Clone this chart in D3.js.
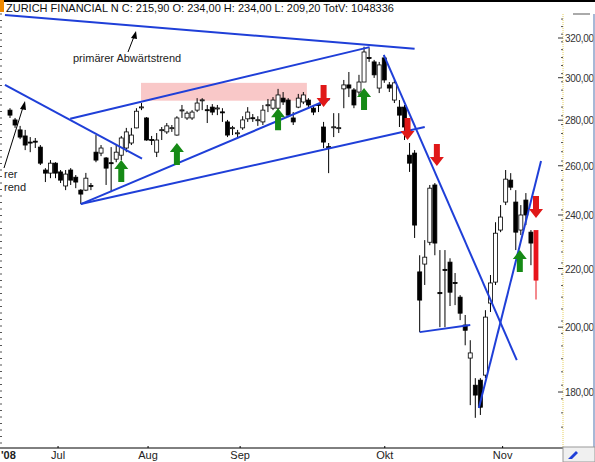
<!DOCTYPE html>
<html><head><meta charset="utf-8">
<script src="https://cdn.jsdelivr.net/npm/d3@7"></script>
<style>body{margin:0;background:#fff}svg{display:block;font-family:Arial,"Liberation Sans",sans-serif}</style>
</head><body><svg id="c" width="595" height="462"></svg>
<script>
const title = "ZURICH FINANCIAL N C: 215,90 O: 234,00 H: 234,00 L: 209,20 TotV: 1048336";
// OHLC per trading day (index = day)
const opens  = [284.6,280.1,275.6,272.9,270.2,270.6,268.0,258.2,256.9,261.1,257.4,251.6,258.2,255.2,249.9,249.9,251.8,265.8,265.4,263.3,261.3,262.8,264.5,267.6,269.8,276.5,285.8,281.0,271.3,265.8,275.4,274.7,276.4,273.3,284.4,281.0,281.0,284.6,289.1,284.8,286.0,285.4,283.8,279.2,276.4,274.0,276.5,280.6,281.1,280.0,279.2,286.8,285.5,285.5,290.2,289.3,281.0,286.0,288.4,289.3,285.5,287.2,276.9,268.2,276.7,276.3,294.6,296.5,294.1,293.1,297.9,310.0,307.8,295.0,309.8,296.5,289.3,286.0,286.0,264.5,265.4,218.8,221.6,229.6,252.0,211.6,219.7,222.3,215.1,210.0,200.7,190.2,182.0,183.5,185.0,208.0,215.2,234.2,245.1,254.0,245.1,234.2,245.9,233.4,234.0];
const highs  = [285.5,281.0,277.4,275.6,272.4,272.0,268.9,259.0,262.4,261.5,258.2,258.2,259.0,256.1,250.3,257.0,252.8,273.3,268.9,263.7,268.0,268.9,272.9,276.5,276.5,285.5,287.9,281.4,272.9,274.2,276.9,278.7,277.8,281.8,287.0,284.1,284.6,290.2,290.2,287.0,287.4,287.0,285.5,280.1,277.4,275.6,281.8,286.0,282.8,281.8,287.0,289.8,290.7,294.6,293.1,290.2,283.7,292.2,293.1,290.2,286.5,287.9,279.2,269.8,283.2,283.2,298.9,302.8,295.0,301.4,315.5,314.8,308.8,307.8,310.8,297.9,298.9,289.3,287.0,269.8,266.7,224.8,230.4,252.0,252.8,226.7,226.7,223.7,218.4,210.7,204.0,195.8,184.1,184.1,205.6,217.7,237.2,243.9,258.2,256.9,249.9,243.9,248.7,234.2,234.0];
const lows   = [281.0,276.5,271.5,266.7,265.8,267.6,260.3,253.2,254.8,254.8,252.8,249.9,252.0,250.7,244.3,249.5,249.9,261.5,264.1,252.0,249.1,261.5,262.4,265.8,268.9,276.3,284.6,270.8,268.9,263.7,271.1,273.8,274.7,273.0,281.0,280.1,280.1,283.7,284.6,278.7,282.3,282.3,279.2,272.4,273.3,272.0,275.6,279.2,279.2,277.4,277.8,283.7,284.6,284.6,287.0,281.4,277.8,285.5,287.4,286.0,282.3,283.7,267.6,256.9,272.4,274.2,285.5,290.7,285.5,291.7,297.9,307.8,299.9,292.6,297.5,293.1,287.9,276.9,271.1,257.4,231.2,198.4,214.2,228.5,224.8,200.0,200.0,207.0,207.3,202.3,194.2,176.2,172.6,173.4,184.1,205.0,214.2,233.4,243.9,249.9,226.7,232.3,236.1,221.2,209.2];
const closes = [282.3,277.8,272.4,268.9,269.8,270.2,261.1,256.9,261.1,256.9,254.0,256.5,254.0,253.2,248.3,254.8,251.4,262.4,267.6,259.0,260.9,265.8,272.0,274.7,273.3,284.1,286.1,271.1,271.0,271.1,275.7,277.4,276.6,281.0,284.7,283.2,283.7,287.9,289.4,284.5,283.7,285.6,283.6,273.3,276.6,274.3,280.1,283.7,280.9,280.2,284.6,287.1,289.3,291.7,288.4,282.3,279.2,290.2,291.7,287.0,283.7,286.9,270.2,267.8,277.0,276.6,296.5,295.0,287.0,297.9,312.8,309.6,301.4,306.3,298.9,295.0,297.5,282.3,276.9,261.1,236.1,209.0,224.1,250.7,229.3,211.2,219.3,211.7,214.7,204.6,199.0,191.8,179.1,175.6,203.3,214.9,233.0,239.2,254.4,251.1,233.4,240.0,240.0,229.3,215.9];
const yTicks = [180,200,220,240,260,280,300,320];
const monthLabels = ["Jul","Aug","Sep","Okt","Nov"];
const monthDays = [9.5,27.3,45.5,74.1,97.4];
// trend lines: [day1, price1, day2, price2]
const trendLines = [
  [-1,332.2,80,314.4],[-1,296.5,26.1,263.0],[11.9,280.6,71.1,315.3],
  [14,244.3,63.2,289.8],[14,244.3,82,276.9],[73.9,311.3,100.2,189.6],
  [81,198.4,91,200.7],[92.7,175.4,105,262.0]];
const resistZone = [25.9,297.5,58.7,289.0];
const greenArrows = [[22,262.4],[33,269.8],[53,285.5],[70,295.0],[100.8,226.7]];
const redArrows = [[62,286.0],[78.6,271.1],[84.4,259.9],[104,238.8]];

const svg = d3.select("#c");
const x = d3.scaleLinear().domain([0,104]).range([10,536]);
const y = d3.scaleLog().domain([180,320]).range([392,38]);

svg.append("rect").attr("x",x(resistZone[0])).attr("y",y(resistZone[1]))
  .attr("width",x(resistZone[2])-x(resistZone[0])).attr("height",y(resistZone[3])-y(resistZone[1]))
  .attr("fill","#f9c8c8");

const data = opens.map((o,i)=>({i,o,h:highs[i],l:lows[i],c:closes[i]}));
const g = svg.append("g");
data.forEach(d=>{
  const last = d.i===data.length-1;
  const col = last?"#e8141c":"#000";
  g.append("line").attr("x1",x(d.i)).attr("x2",x(d.i)).attr("y1",y(d.h)).attr("y2",y(d.l))
   .attr("stroke",col).attr("stroke-width",1);
  const top=y(Math.max(d.o,d.c)), bot=y(Math.min(d.o,d.c));
  const up = d.c>d.o;
  g.append("rect").attr("x",x(d.i)-2).attr("y",top).attr("width",4).attr("height",Math.max(1,bot-top))
   .attr("fill",last?col:(up?"#fff":"#000")).attr("stroke",col).attr("stroke-width",0.8);
});

trendLines.forEach(t=>svg.append("line").attr("x1",x(t[0])).attr("y1",y(t[1])).attr("x2",x(t[2])).attr("y2",y(t[3]))
  .attr("stroke","#1f3fd8").attr("stroke-width",2));

function arrow(cx,tipY,dir,fill){
  const s=dir;
  const p=[[0,0],[7,9],[3,9],[3,22],[-3,22],[-3,9],[-7,9]].map(q=>[cx+q[0],tipY-s*q[1]]);
  svg.append("polygon").attr("points",p.map(q=>q.join(",")).join(" ")).attr("fill",fill);
}
greenArrows.forEach(a=>arrow(x(a[0]),y(a[1]),-1,"#168a16"));
redArrows.forEach(a=>arrow(x(a[0]),y(a[1]),1,"#e01818"));

svg.append("text").attr("x",73).attr("y",62).attr("font-size",11).attr("fill","#222").text("primärer Abwärtstrend");
svg.append("line").attr("x1",128).attr("y1",52).attr("x2",135).attr("y2",34).attr("stroke","#000");
svg.append("polygon").attr("points","136,31 131,38 137,39").attr("fill","#000");
svg.append("line").attr("x1",4).attr("y1",168).attr("x2",24).attr("y2",104).attr("stroke","#000");
svg.append("polygon").attr("points","25,101 20,109 26,110").attr("fill","#000");
svg.append("text").attr("x",4).attr("y",178).attr("font-size",11).attr("fill","#222").text("rer");
svg.append("text").attr("x",4).attr("y",191).attr("font-size",11).attr("fill","#222").text("rend");

svg.append("rect").attr("x",0).attr("y",0).attr("width",595).attr("height",2).attr("fill","#000");
svg.append("rect").attr("x",0).attr("y",0).attr("width",4).attr("height",12).attr("fill","#f08a00");
svg.append("text").attr("x",6).attr("y",12).attr("font-size",11).attr("fill","#111").text(title);

svg.append("line").attr("x1",563).attr("x2",563).attr("y1",14).attr("y2",447).attr("stroke","#e6d060").attr("stroke-dasharray","1,1");
const minor = d3.range(170,332,4).filter(v=>y(v)>14&&y(v)<445);
minor.forEach(v=>svg.append("line").attr("x1",561).attr("x2",563).attr("y1",y(v)).attr("y2",y(v)).attr("stroke","#555"));
yTicks.forEach(v=>{
  svg.append("line").attr("x1",558).attr("x2",563).attr("y1",y(v)).attr("y2",y(v)).attr("stroke","#333");
  svg.append("text").attr("x",565).attr("y",y(v)+4).attr("font-size",10).attr("letter-spacing","-0.3").attr("fill","#333")
    .text(d3.format(".2f")(v).replace(".",","));
});
d3.range(14,446,6.5).forEach(v=>svg.append("line").attr("x1",0).attr("x2",2).attr("y1",v).attr("y2",v).attr("stroke","#555"));
svg.append("line").attr("x1",594).attr("x2",594).attr("y1",14).attr("y2",447).attr("stroke","#8aa0c8").attr("stroke-width",1.5);
svg.append("line").attr("x1",573).attr("x2",590).attr("y1",14).attr("y2",14).attr("stroke","#aaa").attr("stroke-width",2);

svg.append("line").attr("x1",0).attr("x2",563).attr("y1",448).attr("y2",448).attr("stroke","#000");
svg.append("rect").attr("x",563).attr("y",447).attr("width",32).attr("height",15).attr("fill","#f0f0f0").attr("stroke","#999");
svg.append("polygon").attr("points","568,459 576,451 578,453 572,459").attr("fill","#1f3fd8");
monthLabels.forEach((m,k)=>{
  svg.append("line").attr("x1",x(monthDays[k])).attr("x2",x(monthDays[k])).attr("y1",446).attr("y2",448).attr("stroke","#000");
  svg.append("text").attr("x",x(monthDays[k])).attr("y",459).attr("text-anchor","middle").attr("font-size",11).attr("fill","#222").text(m);
});
svg.append("text").attr("x",1).attr("y",459).attr("font-size",11).attr("font-weight","bold").attr("fill","#222").text("'08");
</script></body></html>
